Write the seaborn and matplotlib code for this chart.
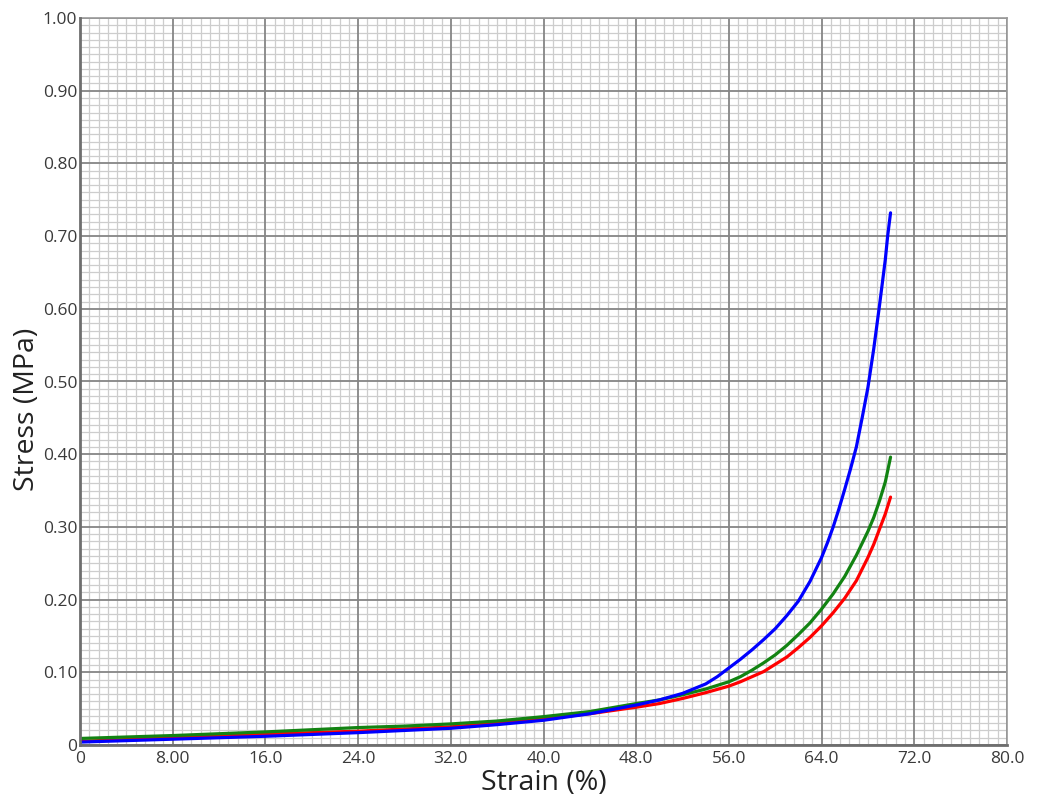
import pandas as pd
import seaborn as sns
import matplotlib.pyplot as plt
from matplotlib.ticker import MultipleLocator, FixedLocator

# Values (strain in %, stress in MPa)
blue_strain = [0, 4, 8, 12, 16, 20, 24, 28, 32, 36, 40, 44, 46, 48, 50, 52, 54, 55, 56, 57, 58, 59, 60,
               61, 62, 63, 64, 64.5, 65, 65.5, 66, 66.5, 67, 67.5, 68, 68.5, 69, 69.5, 69.7, 69.95]
blue_stress = [0.004, 0.006, 0.008, 0.010, 0.012, 0.0145, 0.017, 0.020, 0.023, 0.028, 0.034, 0.043, 0.049,
               0.055, 0.062, 0.071, 0.084, 0.094, 0.106, 0.118, 0.131, 0.145, 0.160, 0.178, 0.198, 0.225,
               0.258, 0.278, 0.300, 0.325, 0.352, 0.380, 0.410, 0.450, 0.492, 0.545, 0.605, 0.668, 0.700, 0.732]

green_strain = [0, 4, 8, 12, 16, 20, 24, 28, 32, 36, 40, 44, 48, 50, 52, 54, 56, 57, 58, 59, 60, 61, 62,
                63, 64, 65, 66, 67, 68, 68.5, 69, 69.5, 69.95]
green_stress = [0.009, 0.011, 0.013, 0.0155, 0.018, 0.021, 0.024, 0.026, 0.029, 0.033, 0.039, 0.046, 0.057,
                0.062, 0.069, 0.077, 0.087, 0.094, 0.103, 0.113, 0.124, 0.137, 0.152, 0.168, 0.187, 0.208,
                0.232, 0.261, 0.294, 0.313, 0.336, 0.362, 0.396]

red_strain = [0, 4, 8, 12, 16, 20, 24, 28, 32, 36, 40, 44, 48, 50, 52, 54, 56, 57, 58, 59, 60, 61, 62,
              63, 64, 65, 66, 67, 68, 68.5, 69, 69.5, 69.95]
red_stress = [0.005, 0.0075, 0.010, 0.0125, 0.015, 0.017, 0.019, 0.022, 0.025, 0.030, 0.036, 0.043, 0.052,
              0.057, 0.064, 0.072, 0.081, 0.087, 0.094, 0.101, 0.111, 0.121, 0.134, 0.148, 0.164, 0.182,
              0.202, 0.226, 0.258, 0.276, 0.297, 0.318, 0.341]

x_ticks = [0, 8, 16, 24, 32, 40, 48, 56, 64, 72, 80]
x_tick_labels = ["0", "8.00", "16.0", "24.0", "32.0", "40.0", "48.0", "56.0", "64.0", "72.0", "80.0"]
y_ticks = [0, 0.1, 0.2, 0.3, 0.4, 0.5, 0.6, 0.7, 0.8, 0.9, 1.0]
y_tick_labels = ["0", "0.10", "0.20", "0.30", "0.40", "0.50", "0.60", "0.70", "0.80", "0.90", "1.00"]

# Long table for seaborn
df = pd.concat([
    pd.DataFrame({"strain": blue_strain, "stress": blue_stress, "sample": "blue"}),
    pd.DataFrame({"strain": green_strain, "stress": green_stress, "sample": "green"}),
    pd.DataFrame({"strain": red_strain, "stress": red_stress, "sample": "red"}),
])
colors = {"blue": "#0000ff", "green": "#128312", "red": "#ff0000"}

sns.set_theme(style="white")
plt.rcParams["font.family"] = ["Open Sans", "DejaVu Sans"]

fig = plt.figure(figsize=(10.43, 8.05), dpi=100)
ax = fig.add_axes([80 / 1043, 60 / 805, 927 / 1043, 727 / 805])

# red first, then green, blue on top
sns.lineplot(data=df, x="strain", y="stress", hue="sample", hue_order=["red", "green", "blue"],
             palette=colors, sort=False, estimator=None, linewidth=2.3, legend=False, ax=ax, zorder=3)

ax.set_xlim(0, 80)
ax.set_ylim(0, 1.0)

ax.xaxis.set_major_locator(FixedLocator(x_ticks))
ax.yaxis.set_major_locator(FixedLocator(y_ticks))
ax.set_xticklabels(x_tick_labels)
ax.set_yticklabels(y_tick_labels)
ax.xaxis.set_minor_locator(MultipleLocator(0.8))
ax.yaxis.set_minor_locator(MultipleLocator(0.01))

# graph-paper grid: fine lines from the minor ticks, heavy lines on top of them
ax.set_axisbelow(True)
ax.grid(True, which="minor", color="#cdcdcd", linewidth=0.9)
ax.grid(False, which="major")
for xv in x_ticks:
    ax.axvline(xv, color="#858585", linewidth=1.3, zorder=1)
for yv in y_ticks:
    ax.axhline(yv, color="#858585", linewidth=1.3, zorder=1)

ax.tick_params(which="both", length=0)
ax.tick_params(axis="x", labelsize=12.5, pad=4, colors="#3a3a3a")
ax.tick_params(axis="y", labelsize=12.5, pad=2, colors="#3a3a3a")

ax.set_xlabel("Strain (%)", fontsize=20.5, color="#222222", labelpad=2)
ax.set_ylabel("Stress (MPa)", fontsize=20.5, color="#222222")
ax.yaxis.set_label_coords(-0.042, 0.462)

# spines
for side in ["left", "bottom"]:
    ax.spines[side].set_color("#6e6e6e")
    ax.spines[side].set_linewidth(2)
    ax.spines[side].set_zorder(4)
for side in ["top", "right"]:
    ax.spines[side].set_color("#9a9a9a")
    ax.spines[side].set_linewidth(1.2)

fig.savefig("out.png", dpi=100)
